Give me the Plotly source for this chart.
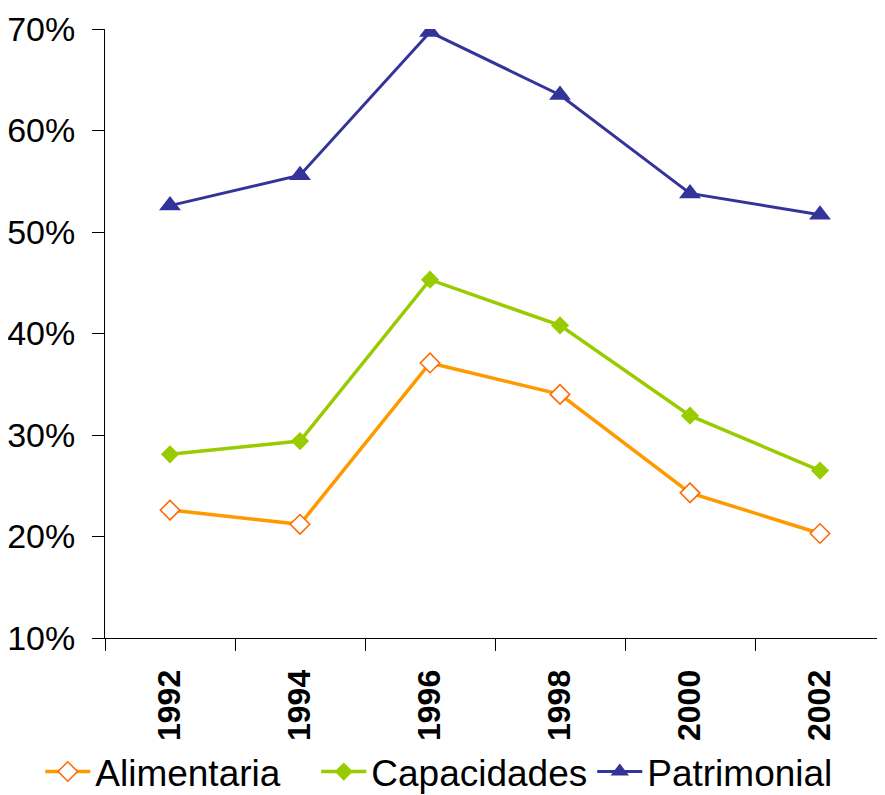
import plotly.graph_objects as go

years = ['1992', '1994', '1996', '1998', '2000', '2002']
alimentaria = [22.6, 21.2, 37.1, 34.0, 24.3, 20.3]
capacidades = [28.1, 29.4, 45.3, 40.8, 31.9, 26.5]
patrimonial = [52.6, 55.6, 69.7, 63.5, 53.8, 51.7]
y_ticks = [10, 20, 30, 40, 50, 60, 70]

fig = go.Figure()

fig.add_trace(go.Scatter(
    x=years, y=alimentaria, name='Alimentaria', mode='lines+markers',
    line=dict(color='#FF9900', width=3.5),
    marker=dict(symbol='diamond', size=15, color='white',
                line=dict(color='#FF6600', width=1.5))
))
fig.add_trace(go.Scatter(
    x=years, y=capacidades, name='Capacidades', mode='lines+markers',
    line=dict(color='#99CC00', width=3.5),
    marker=dict(symbol='diamond', size=14, color='#99CC00')
))
fig.add_trace(go.Scatter(
    x=years, y=patrimonial, name='Patrimonial', mode='lines+markers',
    line=dict(color='#333399', width=3),
    marker=dict(symbol='triangle-up', size=19, color='#333399')
))

# page body keeps its 8px margin; legend kept inside the figure so it doesn't push margins
fig.update_layout(
    width=877, height=795,
    margin=dict(l=97, r=0, t=21, b=164),
    plot_bgcolor='white', paper_bgcolor='white',
    font=dict(family='Liberation Sans, Arial, sans-serif', color='black'),
    legend=dict(orientation='h', x=-0.083, xanchor='left', y=-0.2197, yanchor='middle',
                font=dict(size=37), itemwidth=45,
                entrywidth=216, entrywidthmode='pixels'),
)
fig.update_xaxes(
    type='category', range=[-0.5, 5.5], tickson='boundaries',
    showline=True, linecolor='black', linewidth=1,
    ticks='outside', ticklen=12, tickcolor='black', automargin=False,
    tickangle=-90, ticklabelstandoff=18,
    tickfont=dict(size=32, weight='bold'),
    showgrid=False
)
fig.update_yaxes(
    range=[10, 70], tickvals=y_ticks, ticktext=[f'{v}%' for v in y_ticks],
    showline=True, linecolor='black', linewidth=1,
    ticks='outside', ticklen=12, tickcolor='black', automargin=False,
    ticklabelstandoff=10,
    tickfont=dict(size=34), showgrid=False, zeroline=False
)

fig.write_html("out.html")
